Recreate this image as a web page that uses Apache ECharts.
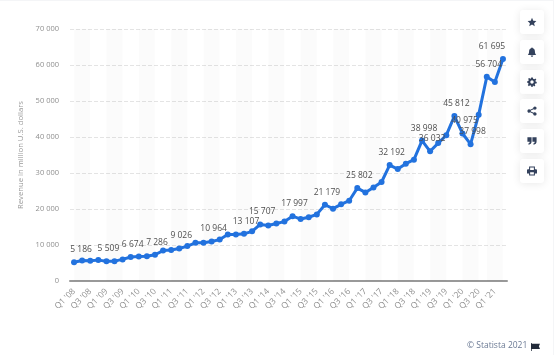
<!DOCTYPE html>
<html>
<head>
<meta charset="utf-8">
<title>Revenue</title>
<script src="https://cdn.jsdelivr.net/npm/echarts@6/dist/echarts.min.js"></script>
<style>
html, body { margin: 0; padding: 0; background: #fff; }
#chart { width: 554px; height: 355px; }
</style>
</head>
<body>
<div id="chart"></div>
<script>
// quarters, Q1 '08 .. Q2 '21
var categories = [
	"Q1 '08", "Q2 '08", "Q3 '08", "Q4 '08", "Q1 '09", "Q2 '09", "Q3 '09", "Q4 '09", "Q1 '10", "Q2 '10", "Q3 '10", "Q4 '10",
	"Q1 '11", "Q2 '11", "Q3 '11", "Q4 '11", "Q1 '12", "Q2 '12", "Q3 '12", "Q4 '12", "Q1 '13", "Q2 '13", "Q3 '13", "Q4 '13",
	"Q1 '14", "Q2 '14", "Q3 '14", "Q4 '14", "Q1 '15", "Q2 '15", "Q3 '15", "Q4 '15", "Q1 '16", "Q2 '16", "Q3 '16", "Q4 '16",
	"Q1 '17", "Q2 '17", "Q3 '17", "Q4 '17", "Q1 '18", "Q2 '18", "Q3 '18", "Q4 '18", "Q1 '19", "Q2 '19", "Q3 '19", "Q4 '19",
	"Q1 '20", "Q2 '20", "Q3 '20", "Q4 '20", "Q1 '21", "Q2 '21"
];
var revenue = [
	5186, 5700, 5600, 5800, 5509, 5520, 6000, 6674, 6800, 6900, 7286, 8440,
	8600, 9026, 9700, 10600, 10650, 10964, 11500, 12900, 12950, 13107, 13800, 15707,
	15400, 15960, 16500, 17997, 17200, 17700, 18500, 21179, 20100, 21300, 22300, 25802,
	24600, 26000, 27500, 32192, 31100, 32600, 33700, 38998, 36032, 38300, 40500, 45812,
	40975, 37998, 46200, 56704, 55300, 61695
];
// which points carry a value label
var labelled = [0, 4, 7, 10, 13, 17, 21, 23, 27, 31, 35, 39, 43, 44, 47, 48, 49, 51, 53];

function spaced(v) {
	return String(v).replace(/\B(?=(\d{3})+$)/g, " ");
}

var seriesData = [];
for (var i = 0; i < revenue.length; i++) {
	var item = { value: revenue[i] };
	if (labelled.indexOf(i) > -1) {
		var dx = 2;
		if (i == 0) dx = 7; // pushed in from the plot edges
		if (i == 53) dx = -11;
		item.label = { show: true, offset: [dx, 0] };
	}
	seriesData.push(item);
}

// pale bands, two quarters wide, every fourth quarter
var bands = [];
for (var b = 0; b + 2 < categories.length; b += 4) {
	bands.push([{ xAxis: categories[b] }, { xAxis: categories[b + 2] }]);
}
bands.push([{ xAxis: categories[51] }, { xAxis: categories[53] }]);

var iconColor = "#33415c";
var buttonTops = [10, 40, 70, 99, 129, 159];
// toolbar icons, drawn in a 24 x 24 box
var icons = [
	"M12 2 L15 9 L22.5 9.7 L17 14.7 L18.6 22 L12 18.2 L5.4 22 L7 14.7 L1.5 9.7 L9 9 Z",
	"M12 1 C13.2 1 14 1.8 14 3 C18 4 19 7.5 19 11 C19 15 20 17 22 19 L2 19 C4 17 5 15 5 11 C5 7.5 6 4 10 3 C10 1.8 10.8 1 12 1 Z M9 20.5 L15 20.5 C15 22.5 13.5 23.5 12 23.5 C10.5 23.5 9 22.5 9 20.5 Z",
	"M10 1 L14 1 L14.7 4 L17.5 5.2 L20.2 3.6 L22.4 6.8 L20 8.8 L20.6 11 L23.5 12 L23 15.5 L20 15.6 L18.6 18 L20 20.6 L17 22.6 L15 20.4 L14 21 L13.5 24 L10.5 24 L10 21 L7.2 20 L4.6 22 L1.8 19.4 L3.8 17 L2.8 14.6 L0.5 13.8 L0.5 10 L3.2 9.4 L4.2 7 L2.6 4.4 L5.4 2.2 L7.6 4.2 L9.6 3.4 Z M12 8 C9.8 8 8 9.8 8 12 C8 14.2 9.8 16 12 16 C14.2 16 16 14.2 16 12 C16 9.8 14.2 8 12 8 Z",
	"M19 1 C21.2 1 23 2.8 23 5 C23 7.2 21.2 9 19 9 C17.9 9 17 8.6 16.2 7.8 L9 11 C9.1 11.6 9.1 12.4 9 13 L16.2 16.2 C17 15.4 17.9 15 19 15 C21.2 15 23 16.8 23 19 C23 21.2 21.2 23 19 23 C16.8 23 15 21.2 15 19 L15 18.4 L7.8 15.2 C7 16 6.1 16.4 5 16.4 C2.6 16.4 1 14.4 1 12 C1 9.6 2.6 7.6 5 7.6 C6.1 7.6 7 8 7.8 8.8 L15 5.6 L15 5 C15 2.8 16.8 1 19 1 Z",
	"M1 3 L11 3 L11 13 C11 17 8.5 20 4 21 L3 18.5 C5.5 17.8 6.5 16 6.5 14 L1 14 Z M13 3 L23 3 L23 13 C23 17 20.5 20 16 21 L15 18.5 C17.5 17.8 18.5 16 18.5 14 L13 14 Z",
	"M5 1 L19 1 L19 8 L22 8 C23 8 24 9 24 10 L24 18 L19 18 L19 23 L5 23 L5 18 L0 18 L0 10 C0 9 1 8 2 8 L5 8 Z M7.5 3.5 L7.5 9.5 L16.5 9.5 L16.5 3.5 Z M7.5 15 L7.5 20.5 L16.5 20.5 L16.5 15 Z"
];
var flagIcon = "M0 0 L2 0 L2 2 L24 2 L21 10 L24 18 L2 18 L2 24 L0 24 Z";

function registerIcon(name, pathData) {
	echarts.graphic.registerShape(name, echarts.graphic.extendPath(pathData, {}));
}
for (var n = 0; n < icons.length; n++) {
	registerIcon("icon" + n, icons[n]);
}
registerIcon("flagIcon", flagIcon);

// thin grey edge of the page around the white card
var graphics = [
	{ type: "rect", x: 0, y: 0, shape: { width: 554, height: 1 }, style: { fill: "#f4f5f7" } },
	{ type: "rect", x: 553, y: 0, shape: { width: 1, height: 355 }, style: { fill: "#f4f5f7" } }
];
for (var k = 0; k < buttonTops.length; k++) {
	graphics.push({
		type: "rect",
		x: 520,
		y: buttonTops[k],
		shape: { width: 24, height: 24, r: 3 },
		style: { fill: "#fff", shadowBlur: 8, shadowColor: "rgba(0,0,0,0.09)", shadowOffsetY: 1 }
	});
	graphics.push({
		type: "icon" + k,
		x: 527,
		y: buttonTops[k] + 7,
		scaleX: 10 / 24,
		scaleY: 10 / 24,
		style: { fill: iconColor }
	});
}
graphics.push({
	type: "text",
	x: 467,
	y: 341,
	style: { text: "© Statista 2021", fill: "#6b7a94", font: "8.5px 'Open Sans'" }
});
graphics.push({
	type: "flagIcon",
	x: 531,
	y: 343,
	scaleX: 9 / 24,
	scaleY: 8 / 24,
	style: { fill: "#222b3a" }
});

var myChart = echarts.init(document.getElementById("chart"));
var option = {
	animation: false,
	backgroundColor: "#fff",
	textStyle: { fontFamily: "'Open Sans'" },
	grid: { left: 70, right: 47, top: 29, bottom: 74 },
	graphic: graphics,
	xAxis: {
		type: "category",
		data: categories,
		boundaryGap: true,
		axisLine: { lineStyle: { color: "#999", width: 2 } },
		axisTick: { show: false },
		axisLabel: { interval: 1, rotate: 45, color: "#8f8f8f", fontSize: 8.5, margin: 9 }
	},
	yAxis: {
		type: "value",
		min: 0,
		max: 70000,
		interval: 10000,
		name: "Revenue in million U.S. dollars",
		nameLocation: "middle",
		nameGap: 41,
		nameTextStyle: { color: "#9a9a9a", fontSize: 7.7 },
		axisLine: { show: false },
		axisTick: { show: false },
		axisLabel: {
			color: "#8f8f8f",
			fontSize: 7.5,
			margin: 11,
			formatter: function(v) {
				return spaced(v);
			}
		},
		splitLine: { lineStyle: { color: "#e4e4e4", type: "dashed", width: 1 } }
	},
	series: [{
		type: "line",
		data: seriesData,
		smooth: false,
		symbol: "circle",
		symbolSize: 6,
		showAllSymbol: true,
		lineStyle: { color: "#2272de", width: 3 },
		itemStyle: { color: "#2272de" },
		label: {
			show: false,
			position: "top",
			distance: 5,
			color: "#4f4f4f",
			fontSize: 8.5,
			formatter: function(p) {
				return spaced(p.value);
			}
		},
		markArea: {
			silent: true,
			itemStyle: { color: "rgba(0,0,0,0.016)" },
			data: bands
		}
	}]
};
myChart.setOption(option);
</script>
</body>
</html>
